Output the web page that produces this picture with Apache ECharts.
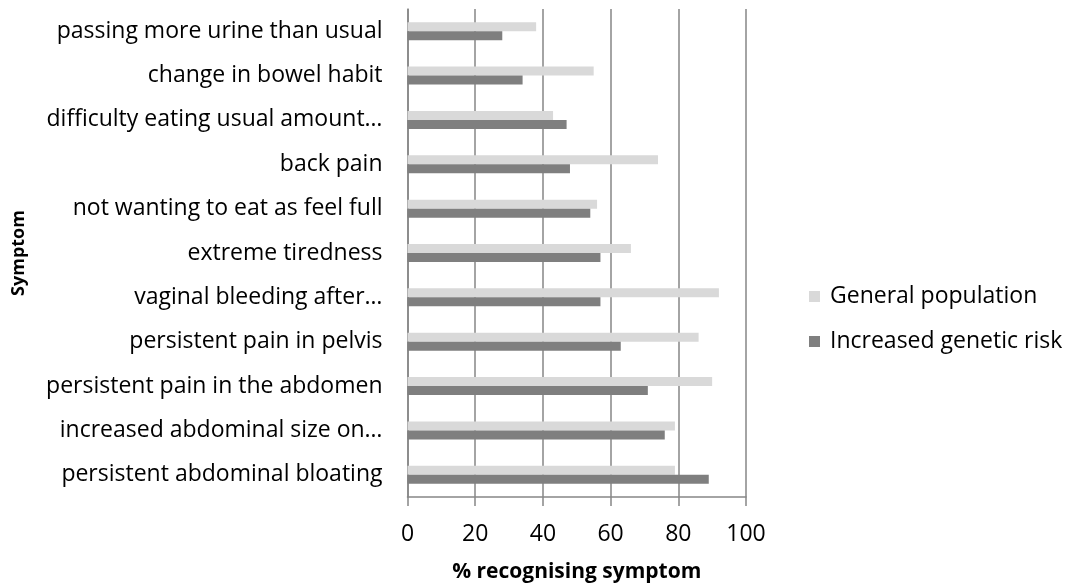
<!DOCTYPE html>
<html>
<head>
<meta charset="utf-8">
<script src="https://cdn.jsdelivr.net/npm/echarts@6/dist/echarts.min.js"></script>
<style>html,body{margin:0;padding:0;background:#fff}#c{width:1074px;height:588px}</style>
</head>
<body>
<div id="c"></div>
<script>
const categories = [
  "passing more urine than usual",
  "change in bowel habit",
  "difficulty eating usual amount…",
  "back pain",
  "not wanting to eat as feel full",
  "extreme tiredness",
  "vaginal bleeding after…",
  "persistent pain in pelvis",
  "persistent pain in the abdomen",
  "increased abdominal size on…",
  "persistent abdominal bloating"
];
const generalPopulation = [38, 55, 43, 74, 56, 66, 92, 86, 90, 79, 79];
const increasedGeneticRisk = [28, 34, 47, 48, 54, 57, 57, 63, 71, 76, 89];
const xTicks = [0, 20, 40, 60, 80, 100];

const FONT = "Open Sans";
const chart = echarts.init(document.getElementById('c'), null, {renderer: 'canvas'});
chart.setOption({
  animation: false,
  backgroundColor: '#fff',
  textStyle: {fontFamily: FONT, color: '#000'},
  grid: {left: 407.5, right: 328, top: 9, bottom: 91, containLabel: false},
  legend: {
    orient: 'vertical',
    left: 809,
    top: 285,
    padding: 0,
    itemWidth: 11,
    itemHeight: 11,
    itemGap: 22,
    icon: 'rect',
    textStyle: {fontFamily: FONT, fontSize: 23, color: '#000', padding: [0, 0, 0, 5]},
    data: ['General population', 'Increased genetic risk']
  },
  xAxis: {
    type: 'value',
    min: xTicks[0],
    max: xTicks[xTicks.length - 1],
    interval: xTicks[1] - xTicks[0],
    name: '% recognising symptom',
    nameLocation: 'middle',
    nameGap: 65,
    nameTextStyle: {fontFamily: FONT, fontSize: 21, fontWeight: 'bold', color: '#000'},
    axisLine: {show: true, lineStyle: {color: '#868686', width: 1.5}},
    axisTick: {show: true, length: 9, lineStyle: {color: '#868686', width: 1.5}},
    axisLabel: {fontFamily: FONT, fontSize: 23, color: '#000', margin: 26},
    splitLine: {show: true, lineStyle: {color: '#868686', width: 1.5}}
  },
  yAxis: {
    type: 'category',
    inverse: true,
    data: categories,
    name: 'Symptom',
    nameLocation: 'middle',
    nameGap: 380,
    nameRotate: 90,
    nameTextStyle: {fontFamily: FONT, fontSize: 18, fontWeight: 'bold', color: '#000'},
    axisLine: {show: true, lineStyle: {color: '#868686', width: 1.5}},
    axisTick: {show: false},
    axisLabel: {fontFamily: FONT, fontSize: 23, color: '#000', margin: 25},
    splitLine: {show: false}
  },
  series: [
    {
      name: 'General population',
      type: 'bar',
      data: generalPopulation,
      barWidth: 9,
      barGap: '0%',
      itemStyle: {color: '#D9D9D9'}
    },
    {
      name: 'Increased genetic risk',
      type: 'bar',
      data: increasedGeneticRisk,
      barWidth: 9,
      barGap: '0%',
      itemStyle: {color: '#7F7F7F'}
    }
  ]
});
</script>
</body>
</html>
